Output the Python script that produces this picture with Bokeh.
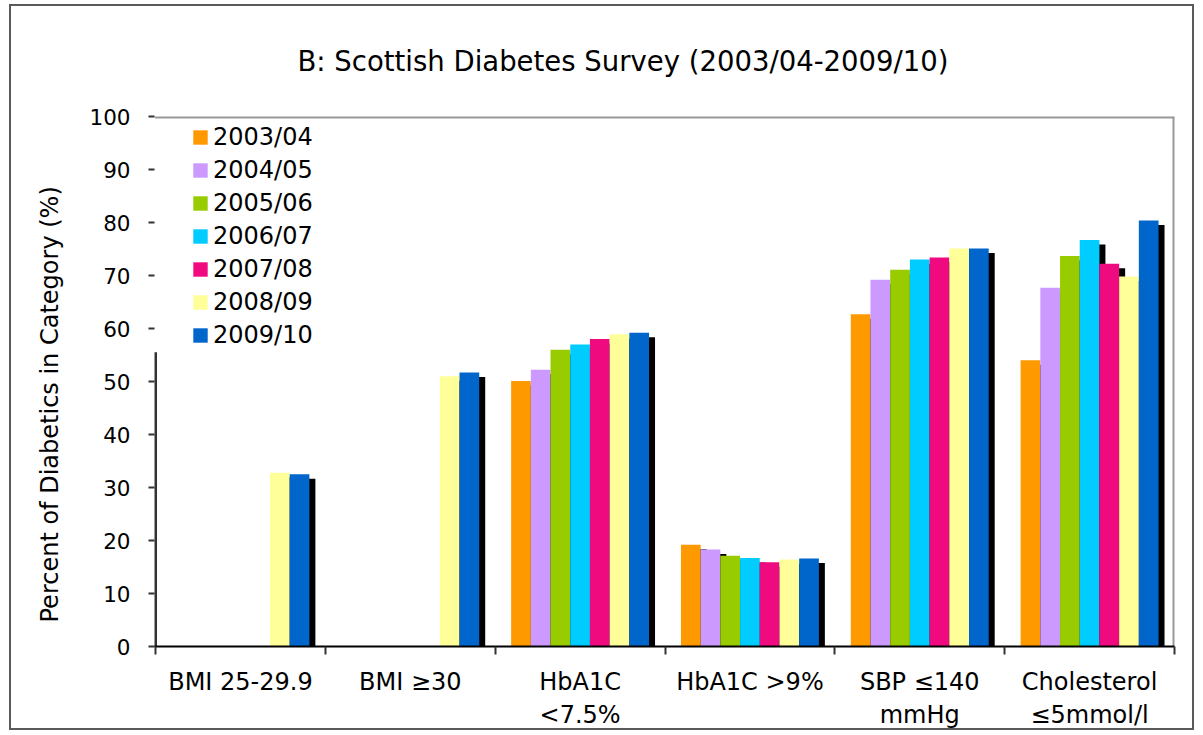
import math
from bokeh.plotting import figure
from bokeh.models import FixedTicker, Legend, LegendItem, Title, Range1d
from bokeh.embed import file_html
from bokeh.resources import INLINE

nan = float("nan")

categories = ["BMI 25-29.9", "BMI \u226530", "HbA1C\n<7.5%", "HbA1C >9%",
              "SBP \u2264140\nmmHg", "Cholesterol\n\u22645mmol/l"]
years = ["2003/04", "2004/05", "2005/06", "2006/07", "2007/08", "2008/09", "2009/10"]

y2003_04 = [nan, nan, 50.1, 19.2, 62.7, 54.0]
y2004_05 = [nan, nan, 52.2, 18.3, 69.2, 67.7]
y2005_06 = [nan, nan, 56.0, 17.1, 71.1, 73.7]
y2006_07 = [nan, nan, 57.0, 16.7, 73.0, 76.7]
y2007_08 = [nan, nan, 58.0, 15.9, 73.4, 72.2]
y2008_09 = [32.8, 51.0, 58.9, 16.4, 75.1, 69.8]
y2009_10 = [32.5, 51.7, 59.2, 16.6, 75.1, 80.4]

series = [y2003_04, y2004_05, y2005_06, y2006_07, y2007_08, y2008_09, y2009_10]
colors = ["#FF9900", "#CC99FF", "#99CC00", "#00CCFF", "#F00A80", "#FFFF99", "#0066CC"]

y_ticks = list(range(0, 101, 10))

FONT = "DejaVu Sans"

p = figure(width=1185, height=726, output_backend="svg", toolbar_location=None,
           x_range=Range1d(-0.006, 6), y_range=Range1d(0, 100),
           min_border_left=143, min_border_right=22, min_border_top=104,
           min_border_bottom=83)
p.styles = {"border": "2px solid #5a5a5a", "margin-left": "9px", "margin-top": "4px"}
p.background_fill_color = "white"
p.border_fill_color = "white"
p.outline_line_color = None
p.xgrid.visible = False
p.ygrid.visible = False

# title
p.title.text = "B: Scottish Diabetes Survey (2003/04-2009/10)"
p.title.text_font = FONT
p.title.text_font_size = "27.5px"
p.title.text_font_style = "normal"
p.title.text_color = "black"
p.title.align = "left"
p.title.offset = 143
p.title.vertical_align = "top"
p.title.standoff = 76

ylab = Title(text="Percent of Diabetics in Category (%)", align="left", offset=24,
             text_font=FONT, text_font_size="24px", text_font_style="normal",
             text_color="black", standoff=45)
p.add_layout(ylab, "left")

# bars
n = len(years)
w = 0.116
dx = 6 / 170
dy = 0.85
centers = [i + 0.5 for i in range(len(categories))]

for j in range(n):
    xs = [c + (j - (n - 1) / 2) * w + dx for c in centers]
    tops = [v - dy for v in series[j]]
    p.vbar(x=xs, top=tops, bottom=0, width=w, fill_color="black", line_color=None)

items = []
for j in range(n):
    xs = [c + (j - (n - 1) / 2) * w for c in centers]
    r = p.vbar(x=xs, top=series[j], bottom=0, width=w, fill_color=colors[j], line_color=None)
    items.append(LegendItem(label=years[j], renderers=[r]))

# frame edges (top, right) and partial left axis line
p.segment(x0=[-0.006], y0=[100], x1=[6], y1=[100], line_color="#999999", line_width=4)
p.segment(x0=[6], y0=[0], x1=[6], y1=[100], line_color="#999999", line_width=4)
p.segment(x0=[0], y0=[0], x1=[0], y1=[55.5], line_color="#333333", line_width=3)

legend = Legend(items=items, location=(37, 297))
legend.glyph_width = 18
legend.glyph_height = 18
legend.label_standoff = 4
legend.label_text_font = FONT
legend.label_text_font_size = "24px"
legend.label_text_color = "black"
legend.label_height = 24
legend.spacing = 5
legend.padding = 6
legend.margin = 0
legend.border_line_color = None
legend.background_fill_alpha = 0
p.add_layout(legend, "center")

# y axis
p.yaxis.ticker = FixedTicker(ticks=y_ticks)
p.yaxis.axis_line_color = None
p.yaxis.major_tick_out = 6
p.yaxis.major_tick_in = 0
p.yaxis.minor_tick_out = 0
p.yaxis.minor_tick_in = 0
p.yaxis.major_tick_line_color = "#333333"
p.yaxis.major_tick_line_width = 2
p.yaxis.major_label_text_font = FONT
p.yaxis.major_label_text_font_size = "21.5px"
p.yaxis.major_label_text_color = "black"
p.yaxis.major_label_standoff = 18

# x axis
p.xaxis.ticker = FixedTicker(ticks=centers, minor_ticks=list(range(0, len(categories) + 1)))
p.xaxis.major_label_overrides = {c: lab for c, lab in zip(centers, categories)}
p.xaxis.axis_line_color = "black"
p.xaxis.axis_line_width = 2
p.xaxis.major_tick_out = 0
p.xaxis.major_tick_in = 0
p.xaxis.minor_tick_out = 8
p.xaxis.minor_tick_in = 0
p.xaxis.minor_tick_line_color = "#333333"
p.xaxis.minor_tick_line_width = 2
p.xaxis.major_label_text_font = FONT
p.xaxis.major_label_text_font_size = "24px"
p.xaxis.major_label_text_color = "black"
p.xaxis.major_label_standoff = 13

open("out.html", "w").write(file_html(p, INLINE))
